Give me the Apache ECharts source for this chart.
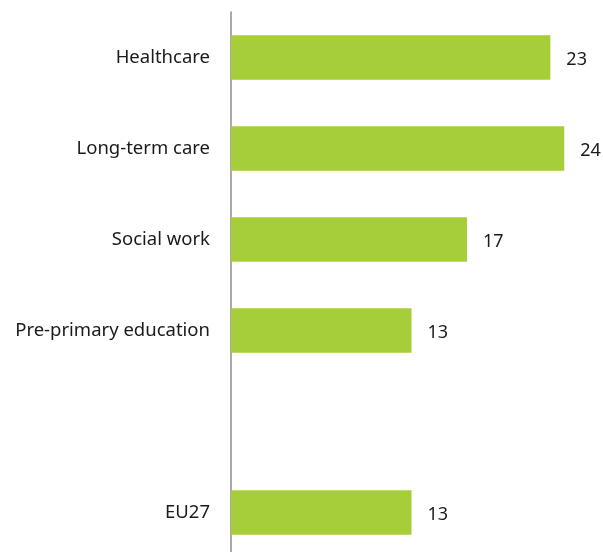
<!DOCTYPE html>
<html>
<head>
<meta charset="utf-8">
<script src="https://cdn.jsdelivr.net/npm/echarts@6/dist/echarts.min.js"></script>
<style>
  html, body { margin: 0; padding: 0; background: #fff; overflow: hidden; }
  #chart { width: 603px; height: 560px; }
</style>
</head>
<body>
<div id="chart"></div>
<script>
// Sectors, top to bottom; the blank entry leaves a gap before the EU27 average
const categories = ['Healthcare', 'Long-term care', 'Social work', 'Pre-primary education', '', 'EU27'];
const values = [23, 24, 17, 13, null, 13];

const FONT = '"Noto Sans", "Open Sans", sans-serif';

const chart = echarts.init(document.getElementById('chart'));
chart.setOption({
  animation: false,
  textStyle: { fontFamily: FONT },
  grid: { left: 231, width: 361, top: 12, height: 546, containLabel: false },
  xAxis: {
    type: 'value',
    min: 0,
    max: 26,
    show: false
  },
  yAxis: {
    type: 'category',
    data: categories,
    inverse: true,
    axisLine: { show: true, lineStyle: { color: '#8c8c8c', width: 1.5 } },
    axisTick: { show: false },
    axisLabel: {
      margin: 21,
      fontSize: 18.5,
      color: '#1a1a1a',
      fontFamily: FONT
    }
  },
  series: [{
    type: 'bar',
    data: values,
    barCategoryGap: '51%',
    itemStyle: { color: '#a6ce39' },
    label: {
      show: true,
      position: 'right',
      distance: 16,
      offset: [0, 2],
      fontSize: 18,
      color: '#1a1a1a',
      fontFamily: FONT
    }
  }]
});
</script>
</body>
</html>
